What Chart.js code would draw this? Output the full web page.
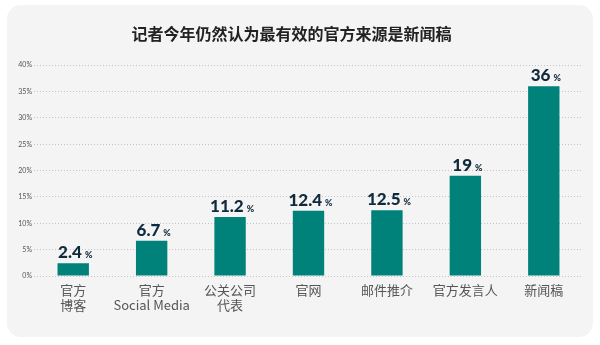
<!DOCTYPE html>
<html>
<head>
<meta charset="utf-8">
<script src="https://cdn.jsdelivr.net/npm/chart.js@4"></script>
<style>
  html, body { margin: 0; padding: 0; background: #ffffff; }
  #wrap { position: relative; width: 600px; height: 345px; }
  #card {
    position: absolute; left: 7px; top: 5px; width: 586px; height: 332px;
    background: #f4f4f4; border-radius: 14px;
  }
  #chart { position: absolute; left: 0; top: 0; }
</style>
</head>
<body>
<div id="wrap">
  <div id="card"></div>
  <canvas id="chart" width="600" height="345"></canvas>
</div>
<script>
  const title = "记者今年仍然认为最有效的官方来源是新闻稿";
  const categories = [
    ["官方", "博客"],
    ["官方", "Social Media"],
    ["公关公司", "代表"],
    "官网",
    "邮件推介",
    "官方发言人",
    "新闻稿"
  ];
  const values = [2.4, 6.7, 11.2, 12.4, 12.5, 19, 36];
  const yTicks = [0, 5, 10, 15, 20, 25, 30, 35, 40];

  const barColor = "#00817a";
  const labelColor = "#0f2a3c";
  const numFont = "900 17px 'Lato', 'DejaVu Sans', sans-serif";
  const pctFont = "900 9px 'Lato', 'DejaVu Sans', sans-serif";

  // value labels above each bar: big number, small "%"
  const valueLabels = {
    id: "valueLabels",
    afterDatasetsDraw(chart) {
      const ctx = chart.ctx;
      const meta = chart.getDatasetMeta(0);
      ctx.save();
      ctx.fillStyle = labelColor;
      ctx.textBaseline = "alphabetic";
      ctx.textAlign = "left";
      meta.data.forEach((bar, i) => {
        const num = String(values[i]);
        ctx.font = numFont;
        const w1 = ctx.measureText(num).width;
        ctx.font = pctFont;
        const w2 = ctx.measureText("%").width;
        const gap = 3;
        const x0 = bar.x - (w1 + gap + w2) / 2 + 2;
        const y = bar.y - 5;
        ctx.font = numFont;
        ctx.fillText(num, x0, y);
        ctx.font = pctFont;
        ctx.fillText("%", x0 + w1 + gap, y);
      });
      ctx.restore();
    }
  };

  new Chart(document.getElementById("chart"), {
    type: "bar",
    data: {
      labels: categories,
      datasets: [{
        data: values,
        backgroundColor: barColor,
        borderWidth: 0,
        categoryPercentage: 1,
        barPercentage: 0.4
      }]
    },
    options: {
      responsive: false,
      animation: false,
      events: [],
      layout: { padding: { left: 0, right: 17, top: 0, bottom: 0 } },
      plugins: {
        legend: { display: false },
        tooltip: { enabled: false },
        title: {
          display: true,
          text: title,
          color: "#222222",
          font: { size: 16, weight: "bold", family: "'Noto Sans CJK SC', sans-serif" },
          padding: { top: 24, bottom: 22 }
        }
      },
      scales: {
        x: {
          grid: { display: false, drawTicks: false },
          border: { display: false },
          ticks: {
            color: "#555555",
            font: { size: 13, family: "'Noto Sans CJK SC', 'Liberation Sans', sans-serif" },
            padding: 6,
            maxRotation: 0,
            autoSkip: false
          },
          afterFit(scale) { scale.height = 69; }
        },
        y: {
          min: 0,
          max: 40,
          afterBuildTicks(scale) { scale.ticks = yTicks.map(v => ({ value: v })); },
          grid: { color: "#c4c4c4", lineWidth: 1, drawTicks: false },
          border: { display: false, dash: [1, 2] },
          ticks: {
            color: "#555555",
            font: { size: 7, family: "'Lato', 'DejaVu Sans', sans-serif" },
            padding: 2,
            callback: v => v + "%"
          },
          afterFit(scale) { scale.width = 34; }
        }
      }
    },
    plugins: [valueLabels]
  });
</script>
</body>
</html>
